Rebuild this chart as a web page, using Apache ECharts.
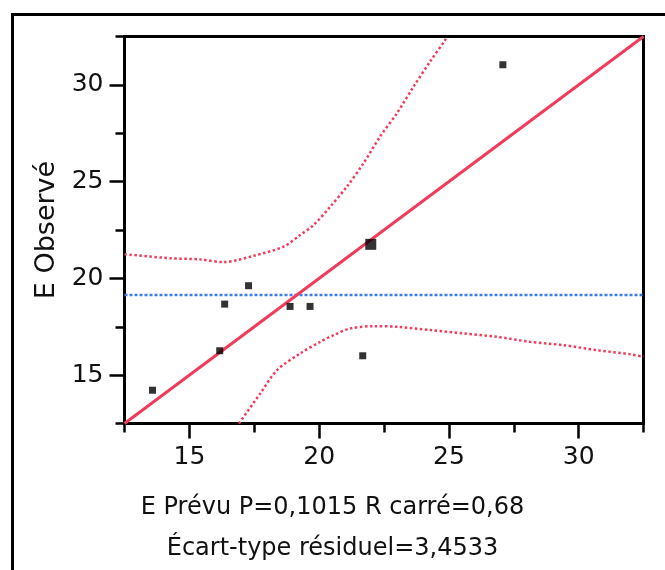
<!DOCTYPE html>
<html>
<head>
<meta charset="utf-8">
<script src="https://cdn.jsdelivr.net/npm/echarts@6/dist/echarts.min.js"></script>
<style>
html,body{margin:0;padding:0;background:#fff;}
#chart{width:665px;height:570px;}
</style>
</head>
<body>
<div id="chart"></div>
<script>
// Data
const predicted = [13.58, 16.17, 16.36, 17.28, 18.88, 19.65, 21.68, 21.99, 27.08];
const observed  = [14.22, 16.26, 18.67, 19.62, 18.55, 18.55, 16.00, 21.76, 31.04];
const fitX = [12.5, 32.5];
const fitY = [12.5, 32.5];
const meanY = 19.14;
const upperX = [12.5, 14.27, 15.42, 16.32, 17.48, 18.63, 19.27, 19.79, 20.43, 21.07, 21.71, 22.35, 23.0, 23.64, 24.28, 24.86, 24.92];
const upperY = [21.25, 21.04, 20.98, 20.84, 21.17, 21.64, 22.24, 22.76, 23.71, 24.74, 25.95, 27.33, 28.54, 29.91, 31.21, 32.33, 32.5];
const lowerX = [16.91, 17.73, 18.38, 19.27, 20.04, 20.56, 21.2, 22.1, 23.0, 24.28, 25.56, 26.85, 28.13, 29.41, 30.7, 31.98, 32.5];
const lowerY = [12.5, 14.05, 15.26, 16.12, 16.72, 17.07, 17.41, 17.53, 17.5, 17.33, 17.16, 16.98, 16.72, 16.55, 16.29, 16.08, 15.95];
const majorTicks = [15, 20, 25, 30];
const minorTicks = [12.5, 17.5, 22.5, 27.5, 32.5];
const axisMin = 12.5, axisMax = 32.5;
const yTitle = 'E Observé';
const line1 = 'E Prévu P=0,1015 R carré=0,68';
const line2 = 'Écart-type résiduel=3,4533';

const RED = '#f03c5c';
const BLUE = '#3d7cf0';
const FONT = 'DejaVu Sans';
const INK = '#111';

const zip = (a, b) => a.map((v, i) => [v, b[i]]);

const chart = echarts.init(document.getElementById('chart'), null, {renderer: 'canvas'});

function mainAxis(isX) {
  return {
    type: 'value', min: axisMin, max: axisMax,
    position: isX ? 'bottom' : 'left',
    axisLine: {show: true, onZero: false, lineStyle: {color: '#000', width: 3}},
    axisTick: {show: true, customValues: majorTicks, length: 15, lineStyle: {color: '#000', width: 2.5}},
    axisLabel: {show: true, customValues: majorTicks, color: INK, fontFamily: FONT, fontSize: 25, margin: 21},
    splitLine: {show: false}
  };
}
function minorAxis(isX) {
  return {
    type: 'value', min: axisMin, max: axisMax,
    position: isX ? 'bottom' : 'left', offset: 0,
    axisLine: {show: false},
    axisTick: {show: true, customValues: minorTicks, length: 9, lineStyle: {color: '#000', width: 2.5}},
    axisLabel: {show: false},
    splitLine: {show: false}
  };
}

const yMain = mainAxis(false);
yMain.name = yTitle;
yMain.nameLocation = 'middle';
yMain.nameRotate = 90;
yMain.nameGap = 63;
yMain.nameTextStyle = {color: INK, fontFamily: FONT, fontSize: 27};

chart.setOption({
  animation: false,
  backgroundColor: '#fff',
  grid: {left: 124.5, top: 36.5, width: 519, height: 387, show: true, borderColor: '#000', borderWidth: 3, backgroundColor: 'transparent'},
  graphic: [{
    type: 'rect', left: 10, top: 12, shape: {x: 0, y: 0, width: 700, height: 600},
    style: {fill: 'none', stroke: '#000', lineWidth: 3}, silent: true, z: -10
  }],
  title: [
    {text: line1, left: 'center', top: 491, textStyle: {color: INK, fontFamily: FONT, fontSize: 24, fontWeight: 'normal'}},
    {text: line2, left: 'center', top: 532, textStyle: {color: INK, fontFamily: FONT, fontSize: 24, fontWeight: 'normal'}}
  ],
  xAxis: [mainAxis(true), minorAxis(true)],
  yAxis: [yMain, minorAxis(false)],
  series: [
    {
      type: 'line', data: [[axisMin, meanY], [axisMax, meanY]], showSymbol: false,
      lineStyle: {color: BLUE, width: 2.5, type: [3, 2]}, z: 2
    },
    {
      type: 'line', data: zip(upperX, upperY), showSymbol: false, smooth: 0.3, clip: true,
      lineStyle: {color: RED, width: 2.5, type: [2.5, 2.5]}, z: 2
    },
    {
      type: 'line', data: zip(lowerX, lowerY), showSymbol: false, smooth: 0.3, clip: true,
      lineStyle: {color: RED, width: 2.5, type: [2.5, 2.5]}, z: 2
    },
    {
      type: 'line', data: zip(fitX, fitY), showSymbol: false, clip: true,
      lineStyle: {color: RED, width: 3}, z: 3
    },
    {
      type: 'scatter', data: zip(predicted, observed), symbol: 'rect',
      symbolSize: (v, p) => p.dataIndex === 7 ? 11 : 7,
      itemStyle: {color: '#000'}, z: 4
    }
  ]
});
</script>
</body>
</html>
